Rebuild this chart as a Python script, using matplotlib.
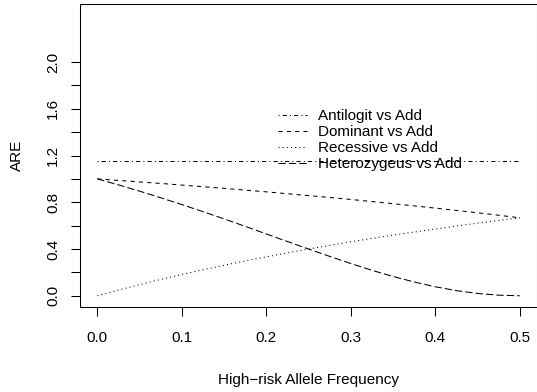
import matplotlib
matplotlib.use("Agg")
import matplotlib.pyplot as plt

# allele frequency grid and ARE values
freq = [0.0, 0.025, 0.05, 0.075, 0.1, 0.125, 0.15, 0.175, 0.2, 0.225, 0.25,
        0.275, 0.3, 0.325, 0.35, 0.375, 0.4, 0.425, 0.45, 0.475, 0.5]
antilogit = [1.15] * len(freq)
dominant = [1.000, 0.987, 0.974, 0.961, 0.947, 0.933, 0.919, 0.904, 0.889, 0.873, 0.857,
            0.841, 0.824, 0.806, 0.788, 0.769, 0.750, 0.730, 0.710, 0.689, 0.667]
recessive = [0.000, 0.049, 0.095, 0.140, 0.182, 0.222, 0.261, 0.298, 0.333, 0.367, 0.400,
             0.431, 0.462, 0.491, 0.519, 0.545, 0.571, 0.596, 0.621, 0.644, 0.667]
heterozygous = [1.000, 0.949, 0.895, 0.839, 0.780, 0.720, 0.658, 0.594, 0.529, 0.464, 0.400,
                0.337, 0.276, 0.218, 0.165, 0.118, 0.077, 0.044, 0.020, 0.005, 0.000]

labels = ["Antilogit vs Add", "Dominant vs Add", "Recessive vs Add", "Heterozygeus vs Add"]
xticks = [0.0, 0.1, 0.2, 0.3, 0.4, 0.5]
yticks = [0.0, 0.2, 0.4, 0.6, 0.8, 1.0, 1.2, 1.4, 1.6, 1.8, 2.0]

plt.rcParams['font.family'] = ['Liberation Sans', 'DejaVu Sans']
fs = 11

fig = plt.figure(figsize=(5.37, 3.92), dpi=100)
ax = fig.add_axes([80.4 / 537, 1 - 307 / 392, 456.3 / 537, 303 / 392])

lw = 0.75
ax.plot(freq, antilogit, color='black', lw=lw, dashes=(1, 3, 4, 3), label=labels[0])
ax.plot(freq, dominant, color='black', lw=lw, dashes=(4, 4), label=labels[1])
ax.plot(freq, recessive, color='black', lw=lw, dashes=(1, 3), label=labels[2])
ax.plot(freq, heterozygous, color='black', lw=lw, dashes=(7, 3), label=labels[3])

ax.set_xlim(-0.02, 0.52)
ax.set_ylim(-0.096, 2.496)
ax.set_xticks(xticks)
ax.set_xticklabels(['%.1f' % v for v in xticks], fontsize=fs)
ax.set_yticks(yticks)
ax.set_yticklabels(['%.1f' % v if i % 2 == 0 else '' for i, v in enumerate(yticks)],
                   fontsize=fs, rotation=90, va='center')
ax.tick_params(direction='out', length=6.5, width=0.75)
ax.tick_params(axis='x', pad=11)
ax.tick_params(axis='y', pad=8)
for s in ax.spines.values():
    s.set_linewidth(0.75)

ax.set_xlabel('High\u2212risk Allele Frequency', fontsize=fs, labelpad=20)
ax.set_ylabel('ARE', fontsize=fs, labelpad=16)

ax.legend(loc='upper left', bbox_to_anchor=(0.433, 0.652), frameon=False,
          fontsize=fs, handlelength=1.9, handletextpad=0.72, labelspacing=0.12,
          borderpad=0, borderaxespad=0)

fig.savefig('out.png', dpi=100)
